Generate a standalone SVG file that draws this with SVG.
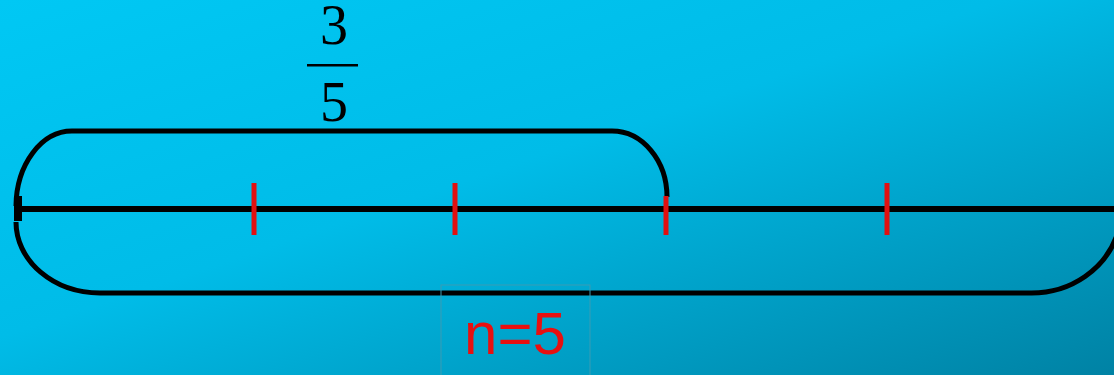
<svg xmlns="http://www.w3.org/2000/svg" width="1114" height="375" viewBox="0 0 1114 375">
  <defs>
    <linearGradient id="bg" x1="0" y1="0" x2="1" y2="1" gradientUnits="objectBoundingBox">
      <stop offset="0" stop-color="#00C8F4"/>
      <stop offset="0.45" stop-color="#00BCE8"/>
      <stop offset="1" stop-color="#0082A4"/>
    </linearGradient>
    <style>
      .blk { fill: none; stroke: #000; stroke-width: 5; }
      .tick { stroke: #E01010; stroke-width: 5; }
      .frac { font-family: "Liberation Serif", "Times New Roman", serif; font-size: 56px; fill: #000; text-anchor: middle; }
      .lbl { font-family: "Liberation Sans", Arial, sans-serif; font-size: 60px; fill: #E81010; text-anchor: middle; }
    </style>
  </defs>
  <rect x="0" y="0" width="1114" height="375" fill="url(#bg)"/>

  <g id="connectors">
    <line id="axis" x1="16" y1="209" x2="1114" y2="209" stroke="#000" stroke-width="6"/>
    <rect x="14" y="196" width="8" height="25" fill="#000"/>
    <path id="top-brace" class="blk" d="M 16 206 A 56 76 0 0 1 72 131 L 612 131 A 55 66 0 0 1 667 197"/>
    <path id="bottom-brace" class="blk" d="M 16 222 A 84 71 0 0 0 100 293 L 1030 293 A 90 84 0 0 0 1118 232"/>
  </g>

  <g id="ticks">
    <line class="tick" x1="254" y1="183" x2="254" y2="235"/>
    <line class="tick" x1="455" y1="183" x2="455" y2="235"/>
    <line class="tick" x1="666" y1="196" x2="666" y2="235"/>
    <line class="tick" x1="887" y1="183" x2="887" y2="235"/>
  </g>

  <g id="fraction">
    <text class="frac" x="334" y="44">3</text>
    <rect x="307" y="64" width="51" height="2.5" fill="#000"/>
    <text class="frac" x="334" y="121">5</text>
  </g>

  <g id="label-n">
    <rect x="441" y="285" width="149" height="95" fill="none" stroke="#3A9CB4" stroke-width="1"/>
    <text class="lbl" x="515" y="354">n=5</text>
  </g>
</svg>
